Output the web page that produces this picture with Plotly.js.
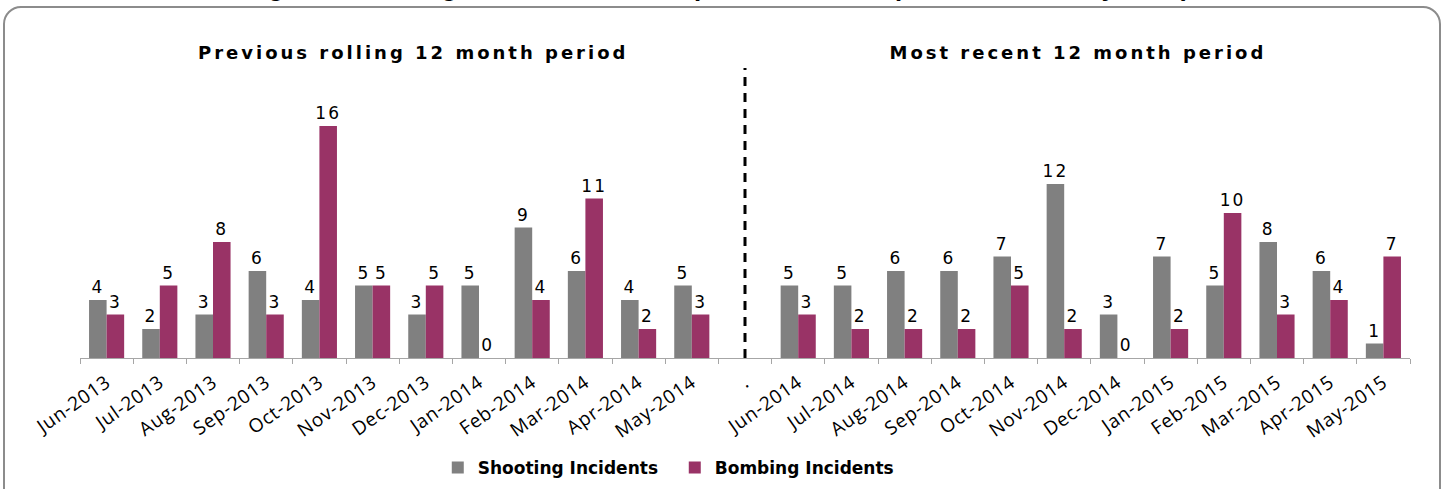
<!DOCTYPE html>
<html>
<head>
<meta charset="utf-8">
<script src="https://cdn.plot.ly/plotly-3.0.1.min.js"></script>
<style>
html,body{margin:0;padding:0;background:#fff;}
#wrap{position:relative;width:1443px;height:489px;overflow:hidden;}
#chart{position:absolute;left:0;top:0;width:1443px;height:489px;}
#frame{position:absolute;left:3px;top:6px;width:1434px;height:500px;border:2px solid #8c8c8c;border-radius:18px;pointer-events:none;}
#chart .annotation-text.period{letter-spacing:3px;}
#chart .bartext{letter-spacing:2px;}
#chart .xtick text{letter-spacing:0.8px;}
</style>
</head>
<body>
<div id="wrap">
<div id="chart"></div>
<div id="frame"></div>
</div>
<script>
const categories = ["Jun-2013","Jul-2013","Aug-2013","Sep-2013","Oct-2013","Nov-2013","Dec-2013","Jan-2014","Feb-2014","Mar-2014","Apr-2014","May-2014",".","Jun-2014","Jul-2014","Aug-2014","Sep-2014","Oct-2014","Nov-2014","Dec-2014","Jan-2015","Feb-2015","Mar-2015","Apr-2015","May-2015"];
const shooting = [4,2,3,6,4,5,3,5,9,6,4,5,null,5,5,6,6,7,12,3,7,5,8,6,1];
const bombing  = [3,5,8,3,16,5,5,0,4,11,2,3,null,3,2,2,2,5,2,0,2,10,3,4,7];
const dividerCategory = ".";
const periodTitles = ["Previous rolling 12 month period","Most recent 12 month period"];
const chartTitle = "Number of Bombing and Shooting Incidents over the past 24 months (June 2013 to May 2015)";

const lbl = arr => arr.map(v => v === null ? "" : String(v));

const traces = [
  {type:"bar", name:"Shooting Incidents", x:categories, y:shooting, text:lbl(shooting),
   textposition:"outside", cliponaxis:false, constraintext:"none",
   textfont:{family:"DejaVu Sans", size:17, color:"#000"},
   marker:{color:"#808080"}},
  {type:"bar", name:"Bombing Incidents", x:categories, y:bombing, text:lbl(bombing),
   textposition:"outside", cliponaxis:false, constraintext:"none",
   textfont:{family:"DejaVu Sans", size:17, color:"#000"},
   marker:{color:"#993366"}}
];

const layout = {
  width:1443, height:489,
  margin:{l:80, r:33, t:68, b:131, autoexpand:false},
  paper_bgcolor:"#fff", plot_bgcolor:"#fff",
  barmode:"group", bargap:0.34, bargroupgap:0,
  showlegend:true,
  legend:{orientation:"h", x:0.269, xanchor:"left", y:-0.379, yanchor:"middle",
          font:{family:"DejaVu Sans", size:17, color:"#000", weight:"bold"},
          entrywidth:192, itemwidth:30, traceorder:"normal"},
  xaxis:{type:"category", tickangle:-35, showgrid:false, zeroline:false,
         showline:true, linecolor:"#a6a6a6", linewidth:1,
         ticks:"outside", ticklen:5, tickcolor:"#a6a6a6", tickson:"boundaries",
         ticklabelstandoff:5,
         tickfont:{family:"Open Sans", size:19, color:"#000"}},
  yaxis:{range:[0,20], visible:false, showgrid:false, zeroline:false},
  font:{family:"DejaVu Sans"},
  shapes:[
    {type:"line", xref:"x", yref:"paper", x0:dividerCategory, x1:dividerCategory, y0:0, y1:1,
     line:{color:"#000", width:3, dash:"9px,7px"}}
  ],
  annotations:[
    {text:"<b>"+periodTitles[0]+"</b>", xref:"paper", yref:"paper", x:0.25, y:1.055, xanchor:"center", yanchor:"middle",
     showarrow:false, font:{family:"DejaVu Sans", size:18, color:"#000"}},
    {text:"<b>"+periodTitles[1]+"</b>", xref:"paper", yref:"paper", x:0.75, y:1.055, xanchor:"center", yanchor:"middle",
     showarrow:false, font:{family:"DejaVu Sans", size:18, color:"#000"}},
    {text:"<b>"+chartTitle+"</b>", xref:"paper", yref:"paper", x:0.836, y:1.222, xanchor:"right", yanchor:"bottom",
     showarrow:false, font:{family:"Liberation Sans", size:26, color:"#000"}}
  ]
};

Plotly.newPlot("chart", traces, layout, {displayModeBar:false, staticPlot:true}).then(gd => {
  const anns = gd.querySelectorAll(".annotation-text");
  anns.forEach((t, i) => { if (i < 2) t.classList.add("period"); });
});
</script>
</body>
</html>
